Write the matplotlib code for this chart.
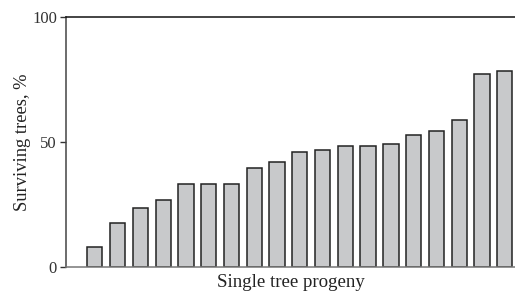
import numpy as np
import matplotlib
matplotlib.use("Agg")
import matplotlib.pyplot as plt

plt.rcParams["font.family"] = ["Liberation Serif", "DejaVu Serif"]

# surviving trees per single tree progeny, sorted ascending (%)
SURVIVAL = [7.9, 17.6, 23.5, 26.7, 33.2, 33.2, 33.2, 39.5, 42.1, 45.9,
            46.8, 48.5, 48.5, 49.1, 52.9, 54.4, 58.7, 77.0, 78.5]
YTICKS = [0, 50, 100]

fig = plt.figure(figsize=(5.15, 2.95), dpi=100)
ax = fig.add_axes([0.128, 0.095, 0.872, 0.848])

x = np.arange(len(SURVIVAL))
ax.bar(x, SURVIVAL, width=0.67, color="#c8c9cb", edgecolor="#222222",
       linewidth=1.1)

ax.set_xlim(-1.27, len(SURVIVAL) - 0.55)
ax.set_ylim(0, 100)
ax.set_yticks(YTICKS)
ax.set_xticks([])
ax.tick_params(axis="y", direction="out", length=4.5, width=1, pad=2,
               labelsize=12, colors="#333333")
ax.spines["right"].set_visible(False)
ax.spines["top"].set_color("#111111")
ax.spines["left"].set_color("#444444")
ax.spines["bottom"].set_color("#777777")
for s in ax.spines.values():
    s.set_linewidth(1.1)

ax.set_ylabel("Surviving trees, %", fontsize=13.3, color="#222222", labelpad=1)
ax.set_xlabel("Single tree progeny", fontsize=13.6, color="#222222", labelpad=5)

fig.savefig("out.png", dpi=100)
